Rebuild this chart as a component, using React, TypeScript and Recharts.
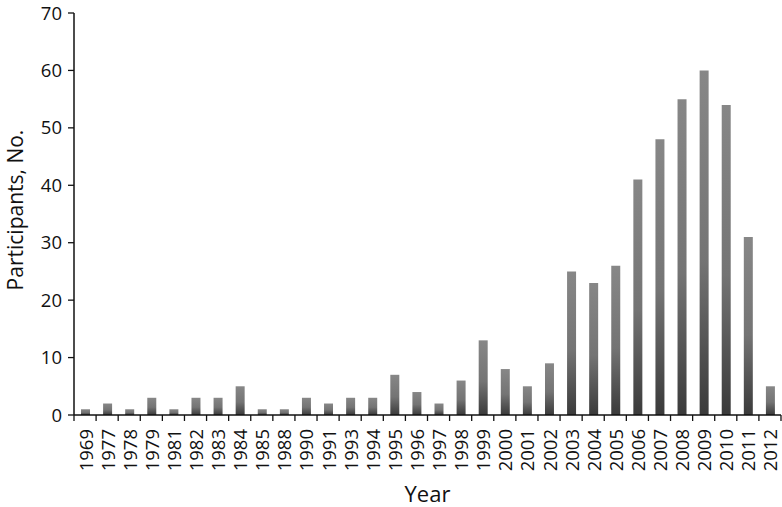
import { Bar, BarChart, XAxis, YAxis } from 'recharts'

const years = [
  '1969', '1977', '1978', '1979', '1981', '1982', '1983', '1984', '1985', '1988', '1990',
  '1991', '1993', '1994', '1995', '1996', '1997', '1998', '1999', '2000', '2001', '2002',
  '2003', '2004', '2005', '2006', '2007', '2008', '2009', '2010', '2011', '2012',
]
const participants = [
  1, 2, 1, 3, 1, 3, 3, 5, 1, 1, 3,
  2, 3, 3, 7, 4, 2, 6, 13, 8, 5, 9,
  25, 23, 26, 41, 48, 55, 60, 54, 31, 5,
]
const yTicks = [0, 10, 20, 30, 40, 50, 60, 70]

const data = years.map((year, i) => ({ year, value: participants[i] }))

const FONT = '"Open Sans", "Noto Sans", sans-serif'

function YearTick(props: any) {
  const { x, y, payload, index } = props
  const half = payload.offset ?? 0
  const axisY = y - 10
  const last = index === years.length - 1
  return (
    <g>
      <line x1={x - half} x2={x - half} y1={axisY} y2={axisY + 6} stroke="#111" strokeWidth={1.3} />
      {last && <line x1={x + half} x2={x + half} y1={axisY} y2={axisY + 6} stroke="#111" strokeWidth={1.3} />}
      <g transform={`translate(${x},${axisY + 14})`}>
        <text
          transform="rotate(-90)"
          textAnchor="end"
          dominantBaseline="central"
          fontSize={18.5}
          fontFamily={FONT}
          fill="#111"
        >
          {payload.value}
        </text>
      </g>
    </g>
  )
}

function YLabel(props: any) {
  const vb = props.viewBox || {}
  const cy = vb.y + vb.height / 2 - 4
  return (
    <text
      transform={`translate(15,${cy}) rotate(-90)`}
      textAnchor="middle"
      dominantBaseline="central"
      fontSize={21}
      fontFamily={FONT}
      fill="#111"
    >
      Participants, No.
    </text>
  )
}

export default function App() {
  return (
    <div style={{ position: 'absolute', left: 0, top: 0, background: '#fff' }}>
      <BarChart
        width={782}
        height={507}
        data={data}
        margin={{ top: 13, right: 1, left: 0, bottom: 0 }}
      >
        <defs>
          <linearGradient id="barFill" x1="0" y1="0" x2="0" y2="1">
            <stop offset="0%" stopColor="#878787" />
            <stop offset="55%" stopColor="#747474" />
            <stop offset="100%" stopColor="#3a3a3a" />
          </linearGradient>
        </defs>
        <XAxis
          dataKey="year"
          height={92}
          interval={0}
          tickLine={false}
          tickSize={0}
          tickMargin={10}
          axisLine={{ stroke: '#111', strokeWidth: 1.5 }}
          tick={<YearTick />}
          label={{
            value: 'Year',
            position: 'insideBottom',
            offset: 5,
            fontSize: 22,
            fontFamily: FONT,
            fill: '#111',
          }}
        />
        <YAxis
          width={74}
          domain={[0, 70]}
          ticks={yTicks}
          interval={0}
          tickSize={6}
          tickMargin={6}
          axisLine={{ stroke: '#111', strokeWidth: 1.5 }}
          tickLine={{ stroke: '#111', strokeWidth: 1.3 }}
          tick={{ fontSize: 18.5, fontFamily: FONT, fill: '#111' }}
          label={<YLabel />}
        />
        <Bar dataKey="value" fill="url(#barFill)" barSize={9} isAnimationActive={false} />
      </BarChart>
    </div>
  )
}
